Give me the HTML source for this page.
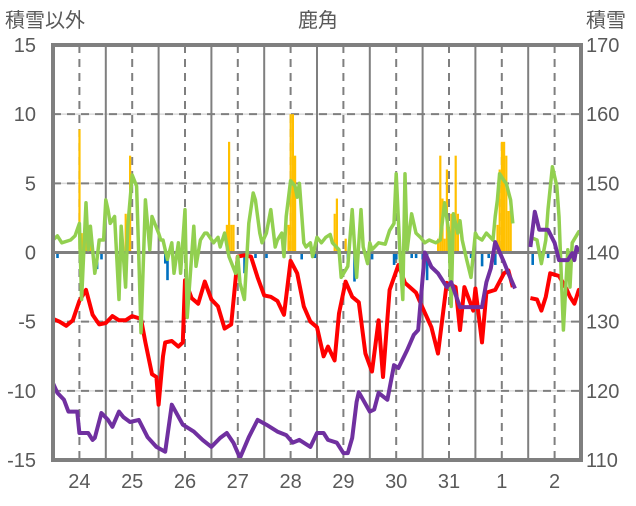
<!DOCTYPE html>
<html><head><meta charset="utf-8"><style>
html,body{margin:0;padding:0;background:#fff;}
svg text{font-family:"Liberation Sans","Noto Sans CJK JP",sans-serif;fill:#595959;}
</style></head><body>
<svg id="chart" width="636" height="501" viewBox="0 0 636 501" xmlns="http://www.w3.org/2000/svg">
<text x="5" y="27" font-size="20">積雪以外</text>
<text x="318" y="27" font-size="20" text-anchor="middle">鹿角</text>
<text x="586" y="27" font-size="20">積雪</text>
<g id="grid"></g>
<g id="bars"></g>
<g id="lines"></g>
<g id="axes"></g>
</svg>
<script>
const dayLabels=["24","25","26","27","28","29","30","31","1","2"];
const leftTicks=[15,10,5,0,-5,-10,-15];
const rightTicks=[170,160,150,140,130,120,110];
const redT=[0,3,6,9,12,15,18,21,24,27,30,33,36,40,42,45,47,48,50,51,54,57,59,60,63,66,69,72,75,78,81,84,87,90,93,96,99,102,105,108,111,114,117,120,123,125,128,130,133,136,139,142,145,148,150,153,157,160,165,168,172,175,179,183,185,187,191,192,195,197,201,205,207,209,213,217,220,222,224,226,230,233,235,237,239,240];
const redV=[-4.8,-5,-5.3,-4.9,-3.5,-2.7,-4.5,-5.2,-5.1,-4.6,-4.9,-4.9,-4.6,-4.8,-6.5,-8.8,-9,-11,-7.5,-6.5,-6.4,-6.8,-6.5,-2,-3.3,-3.7,-2.1,-3.4,-3.9,-5.5,-5.2,-0.3,-0.2,-0.3,-1.8,-3.1,-3.2,-3.5,-4.5,-0.6,-1.5,-3.9,-5,-5.4,-7.5,-6.8,-7.8,-4.4,-2.1,-3.2,-3.6,-7.3,-8.6,-4.9,-9,-2.7,-0.9,-2.2,-2.9,-4,-5.4,-7.3,-2.2,-2.5,-5.6,-2.5,-4.2,-2.6,-6.5,-2.9,-2.7,-1.5,-1.3,-2.5,null,-3.3,-3.4,-4.2,-3.2,-1.5,-1.7,-2.5,-3.2,-3.7,-2.7,-2.8];
const greenT=[0,2,4,8,10,12,13,15,16,17,19,20,21,23,24,25,26,28,30,31,33,34,36,38,39,40,42,44,45,48,49,50,52,54,55,57,58,60,61,64,65,67,69,70,73,75,76,78,80,83,84,85,87,89,91,92,94,95,97,99,101,102,104,105,106,108,110,111,112,114,115,117,118,120,122,
124,126,127,130,131,134,136,138,140,141,143,144,145,148,151,153,155,156,158,159,160,161,163,165,167,169,171,174,176,178,180,181,182,184,185,186,188,190,192,193,195,197,200,201,202,203,205,206,208,209,213,217,220,222,224,225,227,229,230,232,234,235,236,239,240];
const greenV=[0.9,1.2,0.7,0.9,1.2,2.1,-3.4,3.6,0.2,1.9,-1.5,-0.5,0.9,0.9,3.8,3.1,2.1,2.6,-3.4,1.9,-2.5,1.9,5.6,4.8,-0.3,-5.8,3.8,0.2,2.6,1.4,0.9,0.9,-0.5,0.7,-1.5,0.7,-1.5,3.1,-4.7,1.9,-1,0.9,1.4,1.4,0.7,1.1,0.4,1.4,-0.3,-1.5,-0.3,-2.2,-3.4,2.1,4.3,3.8,1.4,0.7,1.4,3.1,0.4,0.9,1.4,-0.3,2.6,5.2,4.8,4,5,0.7,0.4,0.7,-0.3,1.1,0.7,
1.1,1.3,0.7,0.2,-1.8,-1,3.1,-1.8,3.1,0.4,-0.8,0.7,0.2,0.7,0.6,1.6,2.1,5.7,-1,-3.4,5.7,0.2,2.8,1.4,1.1,0.7,0.9,0.7,0.9,3.6,1.4,-3.9,2.8,1.4,2.3,0.9,-0.5,-1.8,1.4,1.1,0.9,1.4,0.9,2.6,3.8,5.7,5.2,5,3.8,2.1,null,1.1,0.9,-0.8,0.9,3.1,6.2,4.8,2.6,-5.6,0.2,-2.5,0.7,1.5,1.4];
const snowT=[0,2,5,7,11,12,16,18,19,22,25,27,30,32,35,39,43,47,51,54,59,64,68,72,76,79,82,85,89,93,97,102,106,109,112,117,120,123,125,129,132,134,136,138,139,144,146,148,152,155,157,161,164,166,169,172,175,179,181,185,191,195,197,199,201,205,207,210,214,217,219,221,225,228,230,234,236,237,238,239];
const snowV=[121.1,119.7,118.7,117,117,113.9,113.9,112.9,113.2,116.8,115.8,114.8,117,116.2,115.5,115.8,113.3,111.9,111.2,118,115.1,114.1,112.9,111.9,113.2,113.9,112.5,110.3,113.3,115.8,115.1,114.1,113.6,112.5,112.9,111.9,113.9,113.9,112.9,112.5,111,111,113.2,118.4,119.8,117,117.3,119.7,118.7,123.7,123.3,125.9,128.1,128.8,140,137.9,137,135,135.7,132.1,132.1,132.1,135.7,137.7,141.5,138.6,137,134.8,null,140.8,145.9,143.3,143.3,141.4,138.9,138.9,139.9,138.9,140.8,140.1];
const precipT=[12,13,15,17,33,34,35,79,80,81,82,107,108,109,110,128,129,133,175,176,177,178,179,180,181,182,183,184,202,203,204,205,206,207,208];
const precipV=[8.9,1.4,1.4,1.0,2.8,2.0,7.0,2,8,2,2,2,10,10,7,2.8,3.9,1,1,7,3.9,1,6,1,2.8,2.8,7,2.8,2,6,8,8,7,3,3.8];
const negT=[2,20,22,29,51,52,58,87,92,97,113,119,134,137,143,145,155,156,159,163,165,168,170,190,195,198,201,218,225];
const negV=[-0.4,-1.2,-0.5,-0.4,-0.8,-2.0,-0.6,-1.5,-0.4,-0.4,-0.5,-0.4,-0.5,-2.1,-0.4,-0.5,-0.9,-0.5,-0.7,-0.4,-0.4,-0.5,-2.0,-0.4,-1,-0.4,-0.9,-0.9,-0.4];

const L=53,R=581,T=45,B=460,HOURS=240;
function xs(h){return L+(R-L)*h/HOURS;}
function yl(v){return B-(v+15)/30*(B-T);}
function yr(v){return B-(v-110)/60*(B-T);}
const NS="http://www.w3.org/2000/svg";
function mk(tag,attrs,parent){const e=document.createElementNS(NS,tag);for(const k in attrs)e.setAttribute(k,attrs[k]);parent.appendChild(e);return e;}
const grid=document.getElementById('grid'),bars=document.getElementById('bars'),lines=document.getElementById('lines'),axes=document.getElementById('axes'),svg=document.getElementById('chart');

leftTicks.forEach((v,i)=>{
  const y=yl(v);
  if(v!==15&&v!==-15&&v!==0){
    const g1=mk('line',{x1:L,x2:R,y1:y,y2:y,stroke:'#d9d9d9','stroke-width':1.5},grid);
    
    
    const g2=mk('line',{x1:L,x2:R,y1:y,y2:y,stroke:'#7f7f7f','stroke-width':2,'stroke-dasharray':'8 6'},grid);
    
    
  }
  const t=mk('text',{x:36,y:y+7,'font-size':20,'text-anchor':'end'},axes);t.textContent=v;
  
  
  const t2=mk('text',{x:586,y:y+7,'font-size':20},axes);t2.textContent=rightTicks[i];
  
  
});
dayLabels.forEach((d,i)=>{
  const xm=xs(i*24+12);
  const dl=mk('line',{x1:xm,x2:xm,y1:T,y2:B,stroke:'#7f7f7f','stroke-width':2,'stroke-dasharray':'8 6'},grid);
  
  
  if(i>0){const x0=xs(i*24);
    const sl=mk('line',{x1:x0,x2:x0,y1:T,y2:B,stroke:'#7f7f7f','stroke-width':2},grid);
    
    }
  const t=mk('text',{x:xm,y:488,'font-size':20,'text-anchor':'middle'},axes);t.textContent=d;
  
  
});
precipT.forEach((h,i)=>{const y=yl(precipV[i]);
  const r=mk('rect',{x:xs(h)-1,y:y,width:2.2,height:yl(0)-y,fill:'#ffc000'},bars);
  
  });
negT.forEach((h,i)=>{const y0=yl(0);
  const r=mk('rect',{x:xs(h)-1.2,y:y0,width:2.6,height:yl(negV[i])-y0,fill:'#0070c0'},bars);
  
  });
function path(ts,vs,ys){let d='',pen=false;for(let i=0;i<ts.length;i++){if(vs[i]===null){pen=false;continue;}d+=(pen?'L':'M')+xs(ts[i]).toFixed(1)+','+ys(vs[i]).toFixed(1);pen=true;}return d;}
const zl=mk('line',{x1:L,x2:R,y1:yl(0),y2:yl(0),stroke:'#7f7f7f','stroke-width':3},lines);


const pr=mk('path',{d:path(redT,redV,yl),fill:'none',stroke:'#ff0000','stroke-width':4,'stroke-linejoin':'round'},lines);


const pg=mk('path',{d:path(greenT,greenV,yl),fill:'none',stroke:'#92d050','stroke-width':3.5,'stroke-linejoin':'round'},lines);


const pp=mk('path',{d:path(snowT,snowV,yr),fill:'none',stroke:'#7030a0','stroke-width':4,'stroke-linejoin':'round'},lines);


const fr=mk('rect',{x:L,y:T,width:R-L,height:B-T,fill:'none',stroke:'#7f7f7f','stroke-width':4},axes);


</script>
</body></html>
